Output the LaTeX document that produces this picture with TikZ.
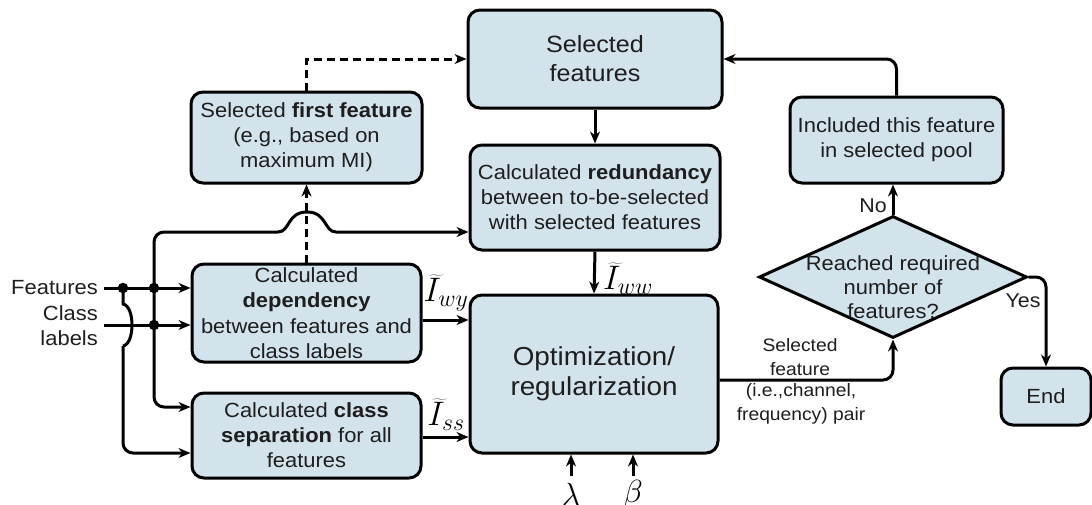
\RequirePackage{fix-cm}
\documentclass[tikz,border=0pt]{standalone}
\usepackage{fontspec}
\setmainfont[FakeStretch=1.07]{Liberation Sans}
\usetikzlibrary{arrows.meta,shapes.geometric}
\definecolor{boxfill}{RGB}{211,227,235}
\definecolor{txt}{RGB}{30,30,30}
\begin{document}
\begin{tikzpicture}[x=1pt,y=-1pt,
  box/.style={draw=black, line width=3pt, fill=boxfill, rounded corners=12pt, align=center, inner sep=0pt, text=txt, font=\fontsize{20.5}{25}\selectfont},
  arr/.style={line width=3pt, -{Stealth[length=12pt,width=10pt]}},
  ln/.style={line width=3pt},
  dsh/.style={line width=3pt, dash pattern=on 8pt off 5pt},
  lbl/.style={font=\fontsize{20}{25}\selectfont, inner sep=0pt, align=center, text=txt},
  small/.style={font=\fontsize{18}{23.5}\selectfont, inner sep=0pt, align=center, text=txt},
  mth/.style={font=\fontsize{34}{36}\selectfont, inner sep=0pt},
  dot/.style={circle, fill=black, inner sep=0pt, minimum size=10.5pt}
]
\useasboundingbox (0,0) rectangle (1092,504);

% boxes
\node[box, minimum width=254pt, minimum height=98pt, font=\fontsize{23.5}{29}\selectfont] (sf) at (595,59) {Selected\\features};
\node[box, minimum width=231pt, minimum height=91pt] (ff) at (306.5,137.5) {Selected \textbf{first feature}\\(e.g., based on\\maximum MI)};
\node[box, minimum width=250pt, minimum height=105pt] (red) at (595,197.5) {Calculated \textbf{redundancy}\\between to-be-selected\\with selected features};
\node[box, minimum width=229pt, minimum height=98pt, font=\fontsize{20.5}{25.5}\selectfont] (dep) at (306.5,313) {Calculated\\\textbf{dependency}\\between features and\\class labels};
\node[box, minimum width=229pt, minimum height=85pt] (sep) at (306.5,435.5) {Calculated \textbf{class}\\\textbf{separation} for all\\features};
\node[box, minimum width=248pt, minimum height=158pt, font=\fontsize{26}{30}\selectfont] (opt) at (594,374) {Optimization/\\regularization};
\node[box, minimum width=213pt, minimum height=86pt] (inc) at (896.5,140) {Included this feature\\in selected pool};
\node[draw=black, line width=3pt, fill=boxfill, diamond, minimum width=268pt, minimum height=122pt, inner sep=0pt] (dia) at (893,277) {};
\node[lbl, font=\fontsize{20.5}{24}\selectfont] (diat) at (893,287) {Reached required\\number of\\features?};
\node[box, minimum width=90pt, minimum height=57pt, font=\fontsize{20.5}{24}\selectfont] (end) at (1046,396.5) {End};

% side labels
\node[lbl, anchor=east, font=\fontsize{20.5}{25}\selectfont] (feat) at (98,288) {Features};
\node[lbl, anchor=east, align=right, font=\fontsize{20.5}{25}\selectfont] (cls) at (98,325.5) {Class\\labels};
\node[small] (sfa) at (800,357) {Selected\\feature};
\node[small] (sfb) at (801,404) {(i.e.,channel,\\frequency) pair};
\node[lbl] (no) at (873,206) {No};
\node[lbl] (yes) at (1023,301) {Yes};

% math labels
\node[mth] (iwy) at (446,293) {$\widetilde{I}_{wy}$};
\node[mth] (iss) at (446,415) {$\widetilde{I}_{ss}$};
\node[mth] (iww) at (628,279) {$\widetilde{I}_{ww}$};
\node[font=\fontsize{32}{34}\selectfont, inner sep=0pt] (lam) at (571,494) {$\lambda$};
\node[font=\fontsize{32}{34}\selectfont, inner sep=0pt] (bet) at (633,494) {$\beta$};

% coordinates
\coordinate (fs) at (104,288);
\coordinate (cs) at (104,325);
\coordinate (j1) at (123,288);
\coordinate (j2) at (154,288);
\coordinate (j3) at (154,325);
\coordinate (s1) at (123,453);
\coordinate (s2) at (154,407);
\coordinate (h1) at (278,232);
\coordinate (r1) at (336,232);
\coordinate (wy) at (421,320);
\coordinate (ss) at (421,437);
\coordinate (sfl) at (720,380);
\coordinate (la) at (571,476);
\coordinate (be) at (633,476);

% left input lines
\draw[arr] (fs) -- (fs -| dep.west);
\draw[arr] (cs) -- (cs -| dep.west);
\draw[ln] (j1) -- (123,304) .. controls (135,306) and (135,344) .. (123,346);
\draw[arr, rounded corners=10pt] (123,346) -- (s1) -- (s1 -| sep.west);
\draw[arr, rounded corners=10pt] (j2) -- (s2) -- (s2 -| sep.west);
\draw[ln, rounded corners=10pt] (j2) -- (154,232) -- (h1);
\draw[arr] (h1) .. controls (290,232) and (287,212) .. (307,212) .. controls (327,212) and (324,232) .. (r1) -- (r1 -| red.west);
\node[dot] (d1) at (j1) {};
\node[dot] (d2) at (j2) {};
\node[dot] (d3) at (j3) {};

% dashed
\draw[dsh, -{Stealth[length=12pt,width=10pt]}] (dep.north) -- (ff.south);
\draw[dsh, -{Stealth[length=12pt,width=10pt]}] (ff.north) |- (sf.west);

% main flow
\draw[arr] (sf.south) -- (red.north);
\draw[arr] (red.south) -- (opt.north);
\draw[arr] (wy -| dep.east) -- (wy -| opt.west);
\draw[arr] (ss -| sep.east) -- (ss -| opt.west);
\draw[arr] (la) -- (la |- opt.south);
\draw[arr] (be) -- (be |- opt.south);
\draw[arr, rounded corners=10pt] (sfl -| opt.east) -| (dia.south);
\draw[arr] (dia.north) -- (dia.north |- inc.south);
\draw[arr, rounded corners=10pt] (inc.north) |- (sf.east);
\draw[arr, rounded corners=10pt] (dia.east) -| (end.north);
\end{tikzpicture}
\end{document}
